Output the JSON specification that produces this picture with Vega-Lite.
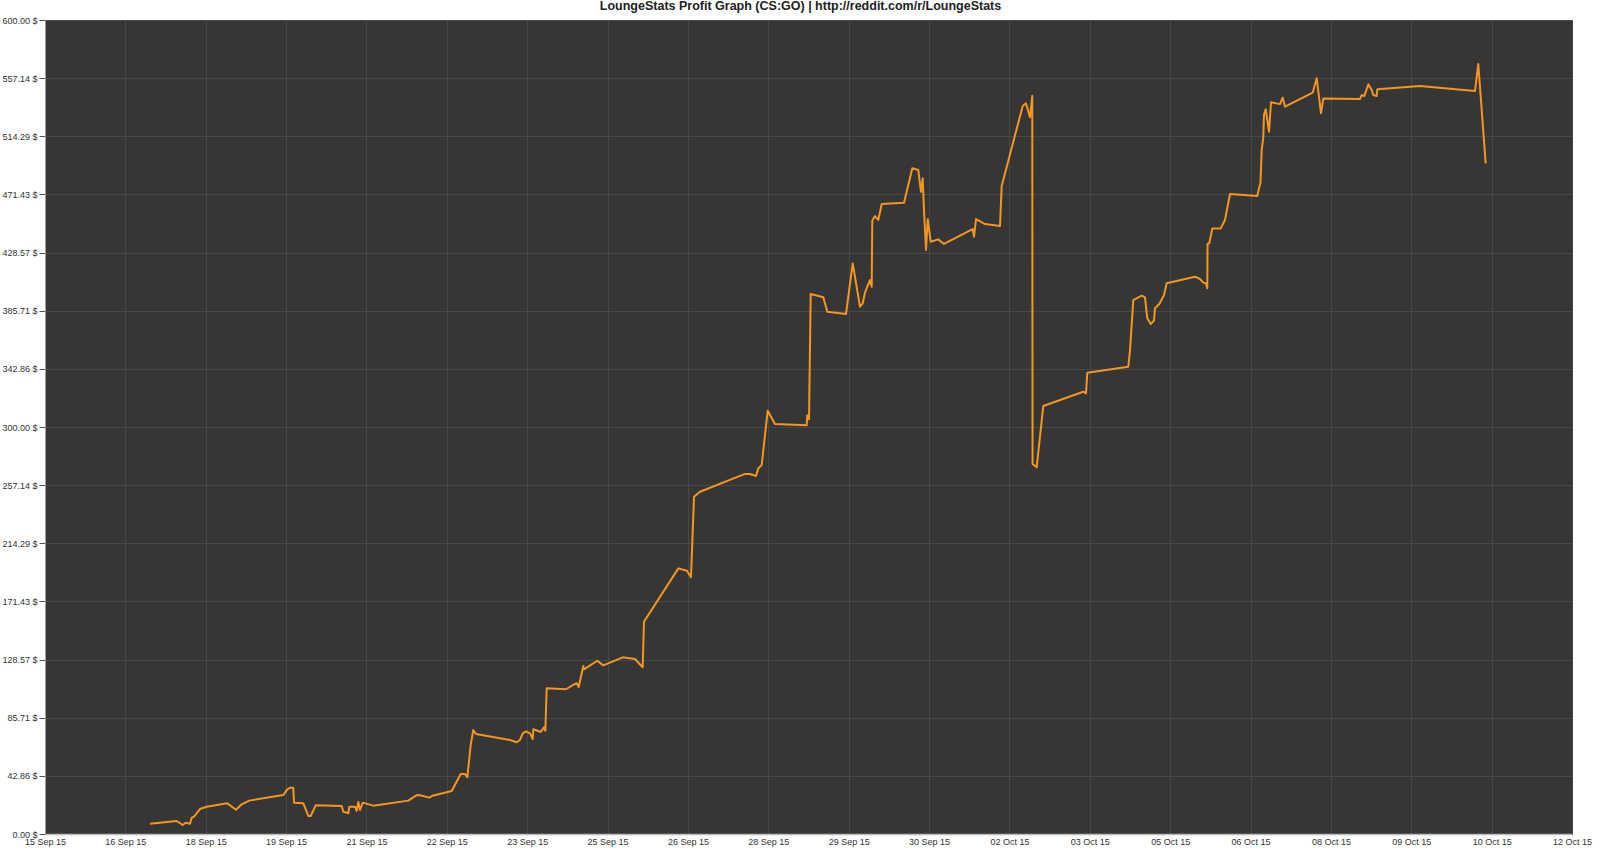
{
  "$schema": "https://vega.github.io/schema/vega-lite/v6.json",
  "width": 1527,
  "height": 814,
  "autosize": {"type": "none"},
  "padding": {"left": 45, "top": 20, "right": 28, "bottom": 21},
  "background": "#ffffff",
  "title": {
    "text": "LoungeStats Profit Graph (CS:GO) | http://reddit.com/r/LoungeStats",
    "font": "Liberation Sans",
    "fontSize": 12.5,
    "fontWeight": "bold",
    "color": "#222222",
    "anchor": "middle",
    "dx": -8,
    "offset": 4
  },
  "config": {
    "view": {"fill": "#363636", "stroke": "#555555", "strokeWidth": 1},
    "axis": {
      "labelFont": "Liberation Sans",
      "labelFontSize": 9,
      "labelColor": "#333333",
      "gridColor": "#484848",
      "gridWidth": 1,
      "title": null
    }
  },
  "data": {
    "values": [
      {"time": "2015-09-17T04:34", "profit": 7.6},
      {"time": "2015-09-17T15:53", "profit": 9.6},
      {"time": "2015-09-17T18:26", "profit": 6.6},
      {"time": "2015-09-17T19:43", "profit": 8.3},
      {"time": "2015-09-17T21:32", "profit": 7.6},
      {"time": "2015-09-17T22:15", "profit": 12.0},
      {"time": "2015-09-17T23:14", "profit": 12.8},
      {"time": "2015-09-18T01:47", "profit": 18.4},
      {"time": "2015-09-18T04:37", "profit": 20.1},
      {"time": "2015-09-18T13:22", "profit": 22.6},
      {"time": "2015-09-18T17:03", "profit": 17.9},
      {"time": "2015-09-18T19:28", "profit": 21.9},
      {"time": "2015-09-18T22:42", "profit": 24.6},
      {"time": "2015-09-19T13:07", "profit": 28.7},
      {"time": "2015-09-19T14:49", "profit": 32.9},
      {"time": "2015-09-19T15:58", "profit": 34.1},
      {"time": "2015-09-19T17:22", "profit": 34.1},
      {"time": "2015-09-19T17:40", "profit": 23.1},
      {"time": "2015-09-19T21:37", "profit": 22.6},
      {"time": "2015-09-19T23:44", "profit": 13.3},
      {"time": "2015-09-20T00:45", "profit": 13.3},
      {"time": "2015-09-20T02:52", "profit": 21.1},
      {"time": "2015-09-20T13:55", "profit": 20.6},
      {"time": "2015-09-20T14:35", "profit": 16.4},
      {"time": "2015-09-20T16:43", "profit": 15.3},
      {"time": "2015-09-20T17:08", "profit": 20.1},
      {"time": "2015-09-20T19:33", "profit": 20.1},
      {"time": "2015-09-20T20:16", "profit": 17.0},
      {"time": "2015-09-20T20:57", "profit": 23.6},
      {"time": "2015-09-20T21:40", "profit": 17.7},
      {"time": "2015-09-20T22:49", "profit": 23.1},
      {"time": "2015-09-21T03:19", "profit": 20.9},
      {"time": "2015-09-21T18:10", "profit": 24.6},
      {"time": "2015-09-21T21:44", "profit": 28.7},
      {"time": "2015-09-21T23:08", "profit": 28.5},
      {"time": "2015-09-22T03:05", "profit": 26.8},
      {"time": "2015-09-22T04:31", "profit": 28.2},
      {"time": "2015-09-22T12:35", "profit": 31.7},
      {"time": "2015-09-22T16:25", "profit": 44.2},
      {"time": "2015-09-22T18:14", "profit": 44.2},
      {"time": "2015-09-22T19:13", "profit": 41.8},
      {"time": "2015-09-22T20:39", "profit": 65.6},
      {"time": "2015-09-22T21:45", "profit": 76.7},
      {"time": "2015-09-22T22:54", "profit": 73.7},
      {"time": "2015-09-23T13:20", "profit": 69.3},
      {"time": "2015-09-23T16:10", "profit": 67.6},
      {"time": "2015-09-23T17:34", "profit": 69.3},
      {"time": "2015-09-23T18:43", "profit": 74.2},
      {"time": "2015-09-23T20:07", "profit": 75.7},
      {"time": "2015-09-23T21:49", "profit": 74.2},
      {"time": "2015-09-23T22:58", "profit": 70.0},
      {"time": "2015-09-23T23:13", "profit": 77.2},
      {"time": "2015-09-24T02:21", "profit": 75.2},
      {"time": "2015-09-24T03:46", "profit": 78.6},
      {"time": "2015-09-24T04:19", "profit": 76.1},
      {"time": "2015-09-24T04:54", "profit": 107.4},
      {"time": "2015-09-24T13:05", "profit": 106.7},
      {"time": "2015-09-24T16:55", "profit": 110.6},
      {"time": "2015-09-24T17:38", "profit": 111.1},
      {"time": "2015-09-24T18:29", "profit": 108.4},
      {"time": "2015-09-24T20:26", "profit": 123.8},
      {"time": "2015-09-24T20:44", "profit": 121.4},
      {"time": "2015-09-25T02:22", "profit": 127.7},
      {"time": "2015-09-25T04:55", "profit": 124.3},
      {"time": "2015-09-25T13:09", "profit": 130.2},
      {"time": "2015-09-25T18:22", "profit": 129.0},
      {"time": "2015-09-25T21:38", "profit": 122.9},
      {"time": "2015-09-25T22:11", "profit": 156.5},
      {"time": "2015-09-26T12:45", "profit": 195.8},
      {"time": "2015-09-26T16:26", "profit": 194.1},
      {"time": "2015-09-26T18:08", "profit": 189.2},
      {"time": "2015-09-26T19:25", "profit": 248.6},
      {"time": "2015-09-26T21:58", "profit": 252.3},
      {"time": "2015-09-27T17:03", "profit": 265.4},
      {"time": "2015-09-27T19:10", "profit": 265.4},
      {"time": "2015-09-27T21:43", "profit": 263.9},
      {"time": "2015-09-27T22:42", "profit": 269.5},
      {"time": "2015-09-28T00:08", "profit": 272.0},
      {"time": "2015-09-28T02:41", "profit": 312.0},
      {"time": "2015-09-28T05:47", "profit": 302.2},
      {"time": "2015-09-28T19:14", "profit": 301.2},
      {"time": "2015-09-28T19:29", "profit": 308.6},
      {"time": "2015-09-28T20:13", "profit": 305.7},
      {"time": "2015-09-28T20:56", "profit": 398.0},
      {"time": "2015-09-29T02:17", "profit": 395.6},
      {"time": "2015-09-29T03:59", "profit": 385.0},
      {"time": "2015-09-29T11:55", "profit": 383.3},
      {"time": "2015-09-29T14:46", "profit": 420.6},
      {"time": "2015-09-29T17:51", "profit": 388.7},
      {"time": "2015-09-29T19:00", "profit": 391.2},
      {"time": "2015-09-29T19:59", "profit": 399.0},
      {"time": "2015-09-29T20:57", "profit": 403.4},
      {"time": "2015-09-29T22:06", "profit": 408.3},
      {"time": "2015-09-29T22:49", "profit": 403.4},
      {"time": "2015-09-29T23:04", "profit": 452.0},
      {"time": "2015-09-30T00:13", "profit": 455.5},
      {"time": "2015-09-30T01:37", "profit": 452.6},
      {"time": "2015-09-30T03:04", "profit": 464.4},
      {"time": "2015-09-30T12:32", "profit": 465.3},
      {"time": "2015-09-30T16:03", "profit": 490.7},
      {"time": "2015-09-30T18:36", "profit": 489.4},
      {"time": "2015-09-30T19:44", "profit": 473.4},
      {"time": "2015-09-30T20:28", "profit": 483.3},
      {"time": "2015-09-30T21:01", "profit": 459.4},
      {"time": "2015-09-30T21:52", "profit": 430.5},
      {"time": "2015-09-30T22:35", "profit": 453.1},
      {"time": "2015-09-30T23:52", "profit": 436.6},
      {"time": "2015-10-01T03:05", "profit": 438.3},
      {"time": "2015-10-01T05:30", "profit": 434.9},
      {"time": "2015-10-01T17:40", "profit": 445.9},
      {"time": "2015-10-01T18:14", "profit": 440.3},
      {"time": "2015-10-01T19:05", "profit": 453.3},
      {"time": "2015-10-01T22:54", "profit": 449.6},
      {"time": "2015-10-02T05:16", "profit": 448.2},
      {"time": "2015-10-02T05:59", "profit": 477.6},
      {"time": "2015-10-02T14:54", "profit": 536.6},
      {"time": "2015-10-02T16:18", "profit": 538.6},
      {"time": "2015-10-02T18:00", "profit": 528.3},
      {"time": "2015-10-02T18:58", "profit": 544.2},
      {"time": "2015-10-02T19:05", "profit": 272.7},
      {"time": "2015-10-02T20:50", "profit": 270.3},
      {"time": "2015-10-02T23:38", "profit": 315.5},
      {"time": "2015-10-03T16:37", "profit": 326.0},
      {"time": "2015-10-03T17:46", "profit": 324.8},
      {"time": "2015-10-03T18:19", "profit": 340.0},
      {"time": "2015-10-04T11:43", "profit": 344.4},
      {"time": "2015-10-04T12:26", "profit": 356.7},
      {"time": "2015-10-04T13:50", "profit": 393.6},
      {"time": "2015-10-04T17:23", "profit": 396.8},
      {"time": "2015-10-04T18:48", "profit": 395.6},
      {"time": "2015-10-04T19:46", "profit": 380.1},
      {"time": "2015-10-04T21:13", "profit": 375.9},
      {"time": "2015-10-04T22:37", "profit": 378.4},
      {"time": "2015-10-04T23:02", "profit": 387.5},
      {"time": "2015-10-05T00:52", "profit": 390.7},
      {"time": "2015-10-05T02:52", "profit": 397.3},
      {"time": "2015-10-05T04:00", "profit": 405.9},
      {"time": "2015-10-05T16:01", "profit": 410.8},
      {"time": "2015-10-05T18:08", "profit": 409.1},
      {"time": "2015-10-05T19:32", "profit": 406.4},
      {"time": "2015-10-05T20:41", "profit": 405.9},
      {"time": "2015-10-05T21:14", "profit": 402.2},
      {"time": "2015-10-05T21:20", "profit": 434.9},
      {"time": "2015-10-05T22:05", "profit": 435.4},
      {"time": "2015-10-05T23:22", "profit": 446.4},
      {"time": "2015-10-06T02:55", "profit": 446.4},
      {"time": "2015-10-06T04:44", "profit": 452.6},
      {"time": "2015-10-06T06:52", "profit": 471.7},
      {"time": "2015-10-06T18:27", "profit": 470.3},
      {"time": "2015-10-06T19:10", "profit": 475.9},
      {"time": "2015-10-06T19:48", "profit": 480.0},
      {"time": "2015-10-06T20:19", "profit": 504.2},
      {"time": "2015-10-06T21:00", "profit": 513.5},
      {"time": "2015-10-06T21:17", "profit": 530.0},
      {"time": "2015-10-06T22:01", "profit": 534.2},
      {"time": "2015-10-06T23:25", "profit": 517.7},
      {"time": "2015-10-07T00:16", "profit": 539.3},
      {"time": "2015-10-07T04:05", "profit": 538.0},
      {"time": "2015-10-07T05:14", "profit": 542.7},
      {"time": "2015-10-07T06:13", "profit": 536.1},
      {"time": "2015-10-07T17:58", "profit": 546.4},
      {"time": "2015-10-07T19:40", "profit": 557.0},
      {"time": "2015-10-07T21:29", "profit": 531.2},
      {"time": "2015-10-07T22:28", "profit": 542.2},
      {"time": "2015-10-08T14:02", "profit": 541.8},
      {"time": "2015-10-08T14:45", "profit": 544.7},
      {"time": "2015-10-08T15:52", "profit": 544.0},
      {"time": "2015-10-08T17:34", "profit": 552.6},
      {"time": "2015-10-08T19:00", "profit": 548.4},
      {"time": "2015-10-08T19:41", "profit": 544.7},
      {"time": "2015-10-08T21:07", "profit": 544.0},
      {"time": "2015-10-08T21:23", "profit": 548.9},
      {"time": "2015-10-09T15:30", "profit": 551.4},
      {"time": "2015-10-10T14:50", "profit": 547.7},
      {"time": "2015-10-10T16:14", "profit": 567.6},
      {"time": "2015-10-10T19:22", "profit": 494.3}
    ]
  },
  "mark": {"type": "line", "color": "#f4961f", "strokeWidth": 2, "strokeJoin": "round", "interpolate": "linear"},
  "encoding": {
    "x": {
      "field": "time",
      "type": "temporal",
      "scale": {
        "domain": [
          {"year": 2015, "month": 9, "date": 15, "hours": 8, "minutes": 0},
          {"year": 2015, "month": 10, "date": 12, "hours": 8, "minutes": 0}
        ]
      },
      "axis": {
        "values": [
          {"year": 2015, "month": 9, "date": 15, "hours": 8, "minutes": 0},
          {"year": 2015, "month": 9, "date": 16, "hours": 18, "minutes": 6},
          {"year": 2015, "month": 9, "date": 18, "hours": 4, "minutes": 13},
          {"year": 2015, "month": 9, "date": 19, "hours": 14, "minutes": 19},
          {"year": 2015, "month": 9, "date": 21, "hours": 0, "minutes": 25},
          {"year": 2015, "month": 9, "date": 22, "hours": 10, "minutes": 32},
          {"year": 2015, "month": 9, "date": 23, "hours": 20, "minutes": 38},
          {"year": 2015, "month": 9, "date": 25, "hours": 6, "minutes": 44},
          {"year": 2015, "month": 9, "date": 26, "hours": 16, "minutes": 51},
          {"year": 2015, "month": 9, "date": 28, "hours": 2, "minutes": 57},
          {"year": 2015, "month": 9, "date": 29, "hours": 13, "minutes": 3},
          {"year": 2015, "month": 9, "date": 30, "hours": 23, "minutes": 9},
          {"year": 2015, "month": 10, "date": 2, "hours": 9, "minutes": 16},
          {"year": 2015, "month": 10, "date": 3, "hours": 19, "minutes": 22},
          {"year": 2015, "month": 10, "date": 5, "hours": 5, "minutes": 28},
          {"year": 2015, "month": 10, "date": 6, "hours": 15, "minutes": 35},
          {"year": 2015, "month": 10, "date": 8, "hours": 1, "minutes": 41},
          {"year": 2015, "month": 10, "date": 9, "hours": 11, "minutes": 47},
          {"year": 2015, "month": 10, "date": 10, "hours": 21, "minutes": 54},
          {"year": 2015, "month": 10, "date": 12, "hours": 8, "minutes": 0}
        ],
        "format": "%d %b %y",
        "ticks": false,
        "labelPadding": 3,
        "labelFlush": false,
        "labelOverlap": false,
        "domain": true,
        "domainColor": "#bbbbbb",
        "domainWidth": 1.5,
        "grid": true
      }
    },
    "y": {
      "field": "profit",
      "type": "quantitative",
      "scale": {"domain": [0, 600], "nice": false, "zero": true},
      "axis": {
        "values": [0, 42.857142857, 85.714285714, 128.571428571, 171.428571429, 214.285714286, 257.142857143, 300, 342.857142857, 385.714285714, 428.571428571, 471.428571429, 514.285714286, 557.142857143, 600],
        "labelExpr": "format(datum.value, '.2f') + ' $'",
        "tickSize": 6,
        "tickColor": "#555555",
        "labelPadding": 2,
        "labelFlush": false,
        "labelOverlap": false,
        "domain": true,
        "domainColor": "#999999",
        "grid": true
      }
    }
  }
}
